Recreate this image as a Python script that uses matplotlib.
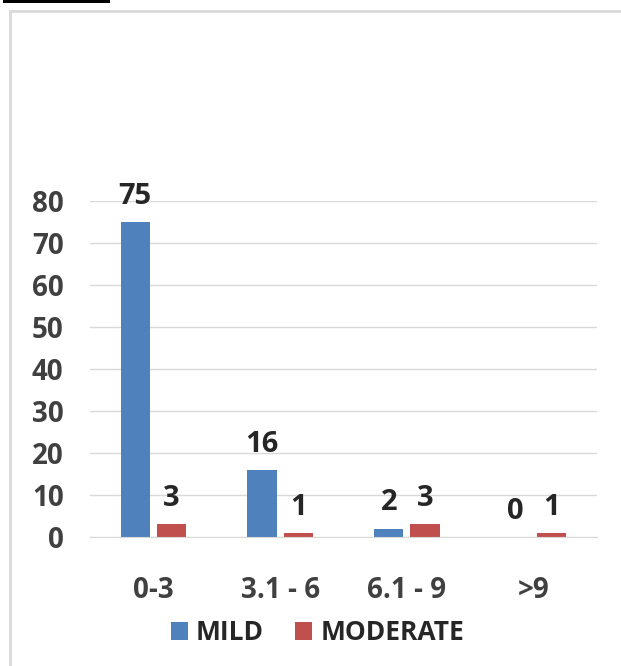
import numpy as np
import matplotlib
matplotlib.use("Agg")
import matplotlib.pyplot as plt
from matplotlib.patches import Rectangle

# score ranges and case counts per severity
categories = ["0-3", "3.1 - 6", "6.1 - 9", ">9"]
mild = [75, 16, 2, 0]
moderate = [3, 1, 3, 1]
series_names = ["MILD", "MODERATE"]
y_ticks = [0, 10, 20, 30, 40, 50, 60, 70, 80]

blue = "#4F81BD"
red = "#C0504D"
grid_col = "#d9d9d9"
tick_col = "#404040"
label_col = "#262626"

plt.rcParams["font.family"] = ["Open Sans", "DejaVu Sans"]
plt.rcParams["font.weight"] = "bold"

fig = plt.figure(figsize=(6.21, 6.66), dpi=100)
fig.patch.set_facecolor("white")

# chart frame (runs off the right/bottom of the page)
fig.patches.append(Rectangle((10 / 621, -0.05), 1.2, 1 - 11 / 666 + 0.05,
                             transform=fig.transFigure, fill=False,
                             edgecolor=grid_col, linewidth=2))
# underline of the caption text above
fig.patches.append(Rectangle((3 / 621, 1 - 3 / 666), 107 / 621, 3 / 666,
                             transform=fig.transFigure, facecolor="black",
                             edgecolor="none"))

ax = fig.add_axes([90 / 621, 129 / 666, 507 / 621, 336.3 / 666])

x = np.arange(len(categories))
w = 0.23
off = 0.143
b1 = ax.bar(x - off, mild, w, color=blue, label=series_names[0])
b2 = ax.bar(x + off, moderate, w, color=red, label=series_names[1])

for bars in (b1, b2):
    ax.bar_label(bars, padding=8, fontsize=21, fontweight="bold",
                 color=label_col, clip_on=False)

ax.set_xlim(-0.5, len(categories) - 0.5)
ax.set_ylim(0, 80)
ax.set_yticks(y_ticks)
ax.set_xticks(x)
ax.set_xticklabels(categories)
ax.yaxis.grid(True, color=grid_col, linewidth=1)
ax.set_axisbelow(True)
for s in ["top", "right", "left"]:
    ax.spines[s].set_visible(False)
ax.spines["bottom"].set_color(grid_col)
ax.tick_params(axis="both", length=0, labelsize=20, labelcolor=tick_col)
for lab in ax.get_xticklabels() + ax.get_yticklabels():
    lab.set_fontweight("bold")
ax.tick_params(axis="y", pad=19)
ax.tick_params(axis="x", pad=28)

fig.legend(loc="center", bbox_to_anchor=(0.511, 33 / 666), ncol=2,
           frameon=False, prop={"size": 19, "weight": "bold"},
           labelcolor=label_col, handlelength=0.65, handleheight=0.65,
           handletextpad=0.3, columnspacing=1.2)

fig.savefig("out.png", dpi=100)
